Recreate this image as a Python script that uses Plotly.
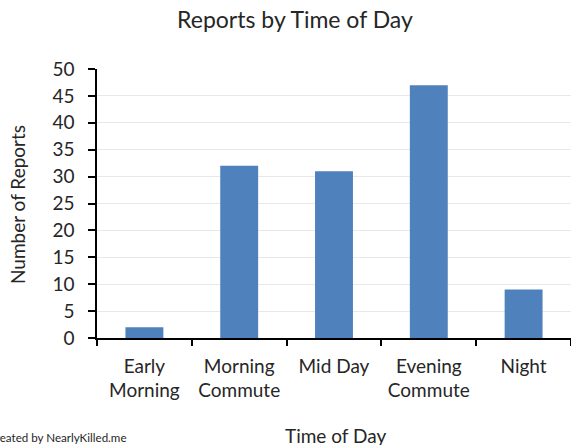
import plotly.graph_objects as go

categories = ["Early<br>Morning", "Morning<br>Commute", "Mid Day", "Evening<br>Commute", "Night"]
reports = [2, 32, 31, 47, 9]
y_ticks = [0, 5, 10, 15, 20, 25, 30, 35, 40, 45, 50]

FONT = "Lato, Calibri, Carlito, sans-serif"
TXT = "#262626"

fig = go.Figure(go.Bar(x=categories, y=reports, marker=dict(color="#4F81BD", line=dict(width=0))))

L, T, PW, PH = 97, 69, 474, 269

fig.update_layout(
    width=571, height=445,
    margin=dict(l=L, r=571 - L - PW, t=T, b=445 - T - PH),
    paper_bgcolor="white", plot_bgcolor="white",
    bargap=0.6,
    showlegend=False,
    font=dict(family=FONT, color=TXT, size=19),
    title=dict(text="Reports by Time of Day", x=(295 - L) / PW, xref="paper", xanchor="center",
               y=1 - 20 / 445, yref="container", yanchor="middle",
               font=dict(family=FONT, size=23, color=TXT)),
)

fig.update_xaxes(
    type="category", range=[-0.5, 4.5],
    showline=True, linecolor="black", linewidth=1.5,
    ticks="outside", tickson="boundaries", ticklen=6, tickcolor="black", tickwidth=1.5,
    showgrid=False, tickfont=dict(family=FONT, size=19, color=TXT),
    ticklabelstandoff=10,
)
fig.update_yaxes(
    range=[0, 50], tickvals=y_ticks,
    showline=True, linecolor="black", linewidth=1.5,
    ticks="outside", ticklen=7, tickcolor="black", tickwidth=1.5,
    showgrid=True, gridcolor="#E8E8E8", gridwidth=1,
    zeroline=False,
    tickfont=dict(family=FONT, size=19, color=TXT),
    ticklabelstandoff=10,
)

fig.add_annotation(text="Time of Day", xref="paper", yref="paper",
                   x=(335 - L) / PW, y=-(435 - (T + PH)) / PH, xanchor="center", yanchor="middle",
                   showarrow=False, font=dict(family=FONT, size=19, color=TXT))
fig.add_annotation(text="Number of Reports", xref="paper", yref="paper",
                   x=-(L - 17) / PW, y=(T + PH - 205) / PH, xanchor="center", yanchor="middle",
                   textangle=-90, showarrow=False, font=dict(family=FONT, size=19, color=TXT))
fig.add_annotation(text="Created by NearlyKilled.me", xref="paper", yref="paper",
                   x=(129 - L) / PW, y=-(438 - (T + PH)) / PH, xanchor="right", yanchor="middle",
                   showarrow=False, font=dict(family=FONT, size=11.6, color=TXT))

fig.write_html("out.html", config={"displayModeBar": False},
               post_script="document.body.style.margin='0';document.body.style.overflow='hidden';")
